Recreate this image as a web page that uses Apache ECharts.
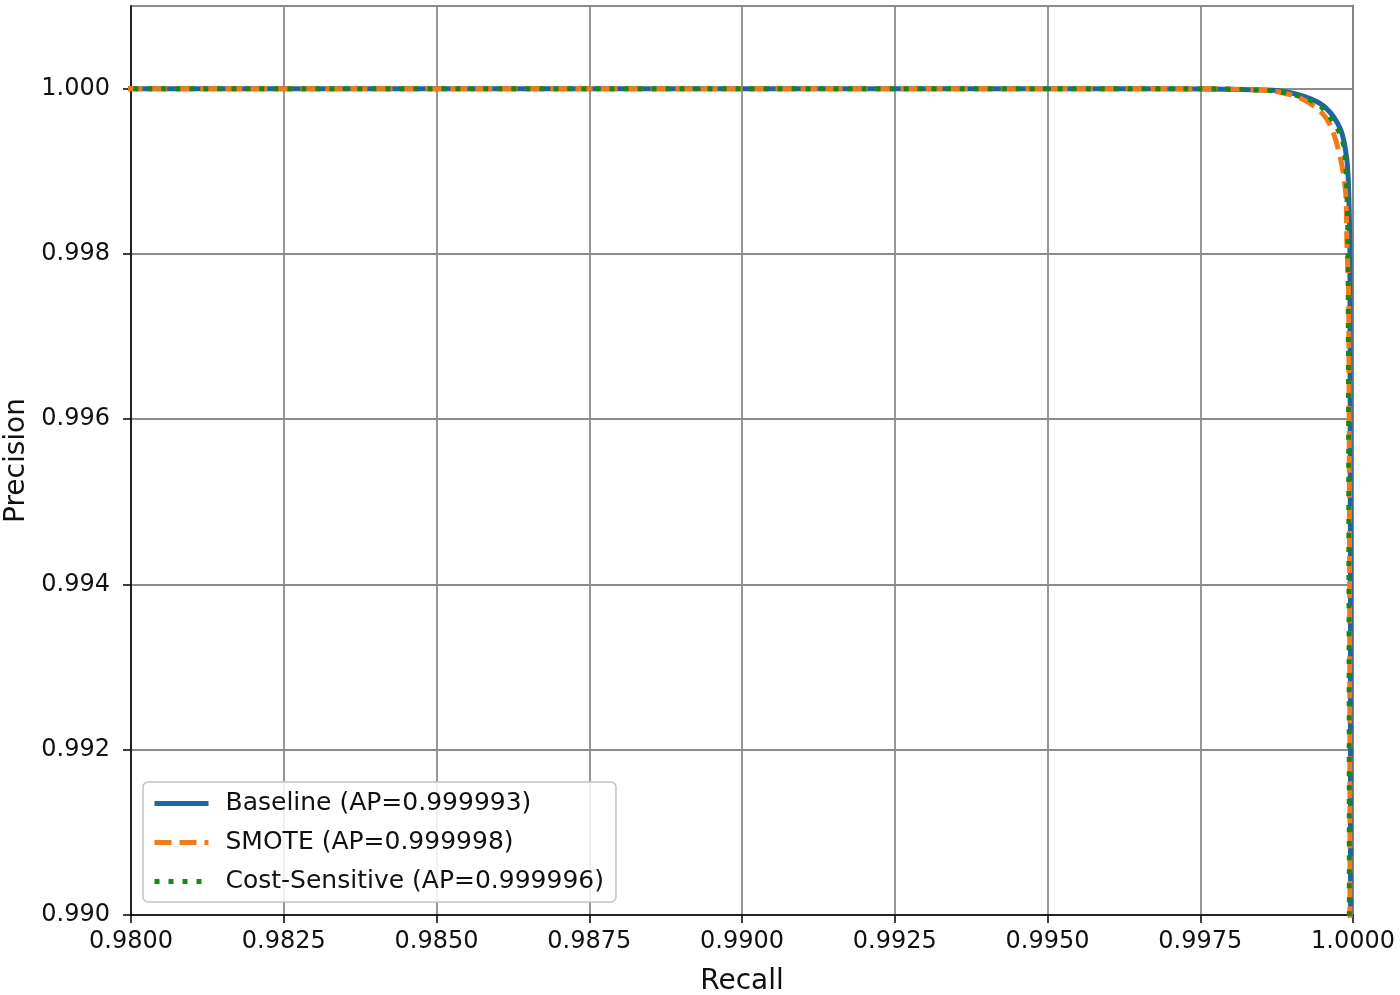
<!DOCTYPE html>
<html>
<head>
<meta charset="utf-8">
<script src="https://cdn.jsdelivr.net/npm/echarts@6/dist/echarts.min.js"></script>
<style>
html,body{margin:0;padding:0;background:#fff;}
#chart{width:1400px;height:995px;}
</style>
</head>
<body>
<div id="chart"></div>
<script>
// Data
const seriesNames = ['Baseline (AP=0.999993)', 'SMOTE (AP=0.999998)', 'Cost-Sensitive (AP=0.999996)'];
const baselineRecall    = [0.975, 0.9967, 0.9987, 0.99922, 0.99955, 0.99980, 0.99990, 0.99993, 0.99995, 0.99996, 0.99996];
const baselinePrecision = [1.000, 1.000, 0.99998, 0.99990, 0.99977, 0.99950, 0.99914, 0.99874, 0.99793, 0.99000, 0.98500];
const smoteRecall       = [0.975, 0.9967, 0.9986, 0.99915, 0.99950, 0.99966, 0.99980, 0.99988, 0.99990, 0.99993, 0.99995, 0.99995];
const smotePrecision    = [1.000, 1.000, 0.99998, 0.99988, 0.99970, 0.99950, 0.99914, 0.99874, 0.99813, 0.99744, 0.99000, 0.98500];
const costRecall        = [0.975, 0.9967, 0.9986, 0.99939, 0.99971, 0.99985, 0.99990, 0.99992, 0.99994, 0.99994];
const costPrecision     = [1.000, 1.000, 0.99998, 0.99983, 0.99956, 0.99930, 0.99874, 0.99793, 0.99000, 0.98500];
const xMin = 0.98, xMax = 1.0, xStep = 0.0025;
const yMin = 0.990, yMax = 1.001, yStep = 0.002;

const zip = (a, b) => a.map((v, i) => [v, b[i]]);
const FONT = 'DejaVu Sans';
const chart = echarts.init(document.getElementById('chart'), null, {renderer: 'canvas'});
const colors = ['#1d66a2', '#f07b18', '#1a861a'];

chart.setOption({
  animation: false,
  backgroundColor: '#fff',
  textStyle: {fontFamily: FONT},
  grid: {left: 131, right: 47, top: 6, bottom: 80, containLabel: false, outerBoundsMode: 'none',
         show: true, borderColor: '#000', borderWidth: 1.5, backgroundColor: 'transparent'},
  legend: {
    left: 143, top: 782, orient: 'vertical',
    itemWidth: 54, itemHeight: 24, itemGap: 14,
    padding: [9, 12, 8, 9],
    backgroundColor: 'rgba(255,255,255,0.85)',
    borderColor: '#c4c4c4', borderWidth: 1.5, borderRadius: 5,
    itemStyle: {opacity: 0},
    lineStyle: {width: 5},
    textStyle: {fontSize: 25, color: '#111', fontFamily: FONT, padding: [0, 0, 0, 12]},
    data: seriesNames
  },
  xAxis: {
    type: 'value', min: xMin, max: xMax, interval: xStep,
    name: 'Recall', nameLocation: 'middle', nameGap: 53,
    nameTextStyle: {fontSize: 28, color: '#111', fontFamily: FONT},
    axisLine: {show: true, lineStyle: {color: '#000', width: 1.5}},
    axisTick: {show: true, length: 8, lineStyle: {color: '#000', width: 1.5}},
    axisLabel: {fontSize: 24, color: '#111', margin: 15, fontFamily: FONT, formatter: v => v.toFixed(4)},
    splitLine: {show: true, lineStyle: {color: '#8c8c8c', width: 1.8}}
  },
  yAxis: {
    type: 'value', min: yMin, max: yMax, interval: yStep,
    name: 'Precision', nameLocation: 'middle', nameGap: 93, nameRotate: 90,
    nameTextStyle: {fontSize: 28, color: '#111', fontFamily: FONT},
    axisLine: {show: true, lineStyle: {color: '#000', width: 1.5}},
    axisTick: {show: true, length: 8, lineStyle: {color: '#000', width: 1.5}},
    axisLabel: {fontSize: 24, color: '#111', margin: 21, fontFamily: FONT, showMaxLabel: false,
      formatter: v => (Math.abs(Math.round(v / yStep) * yStep - v) < 1e-9 ? v.toFixed(3) : '')},
    splitLine: {show: true, lineStyle: {color: '#8c8c8c', width: 1.8}}
  },
  series: [
    {name: seriesNames[0], type: 'line', data: zip(baselineRecall, baselinePrecision), showSymbol: false, symbol: 'none', clip: true, smooth: 0.3,
     lineStyle: {color: colors[0], width: 5, type: 'solid'}, itemStyle: {color: colors[0]}},
    {name: seriesNames[1], type: 'line', data: zip(smoteRecall, smotePrecision), showSymbol: false, symbol: 'none', clip: true, smooth: 0.3,
     lineStyle: {color: colors[1], width: 5, type: [17, 8]}, itemStyle: {color: colors[1]}},
    {name: seriesNames[2], type: 'line', data: zip(costRecall, costPrecision), showSymbol: false, symbol: 'none', clip: true, smooth: 0.3,
     lineStyle: {color: colors[2], width: 5, type: [5, 9]}, itemStyle: {color: colors[2]}}
  ]
});
</script>
</body>
</html>
